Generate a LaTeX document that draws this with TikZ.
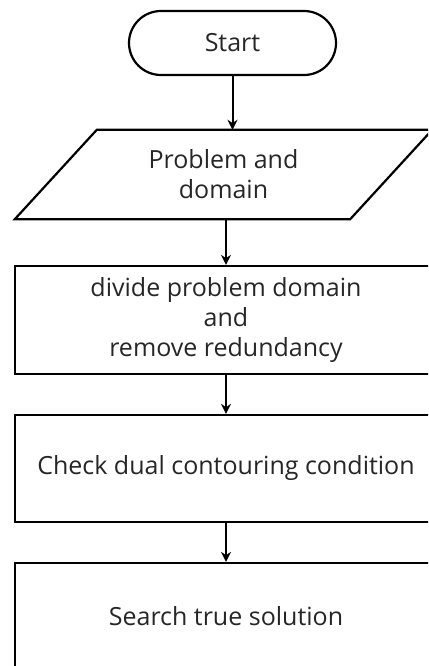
\documentclass[tikz,border=0pt]{standalone}
\usepackage{fontspec}
\setmainfont{Open Sans}
\usetikzlibrary{arrows.meta}
\usetikzlibrary{calc}

\tikzset{
	flowtext/.style={text=black!85,font=\fontsize{25}{30}\selectfont,align=center,inner sep=0pt},
	startbox/.style={flowtext,draw=black,line width=2.2pt,rounded corners=32pt,minimum width=207pt,minimum height=64pt},
	procbox/.style={flowtext,draw=black,line width=2.2pt,minimum width=422pt,minimum height=107pt},
	flowarrow/.style={draw=black,line width=2pt,-{Stealth[length=10pt,width=10pt]}}
}

\begin{document}
\begin{tikzpicture}[x=1pt,y=-1pt]
	\useasboundingbox (0,0) rectangle (428,666);
	\clip (0,0) rectangle (428,666);

	\node[startbox] (start) at (232.5,43) {Start};

	% input: parallelogram drawn round a plain node
	\node[flowtext,minimum width=417pt,minimum height=89pt] (input) at (223.5,174.5) {Problem and\\domain};
	\draw[line width=2.2pt] ($(input.north west)+(82,0)$) -- (input.north east) -- ($(input.south east)-(82,0)$) -- (input.south west) -- cycle;

	\node[procbox,minimum height=108pt] (divide) at (226,320) {divide problem domain\\and\\remove redundancy};
	\node[procbox] (check) at (226,468.5) {Check dual contouring condition};
	\node[procbox] (search) at (226,616.5) {Search true solution};

	\draw[flowarrow] (start.south) -- (start.south |- input.north);
	\draw[flowarrow] (input.south -| divide.north) -- (divide.north);
	\draw[flowarrow] (divide.south) -- (check.north);
	\draw[flowarrow] (check.south) -- (search.north);
\end{tikzpicture}
\end{document}
